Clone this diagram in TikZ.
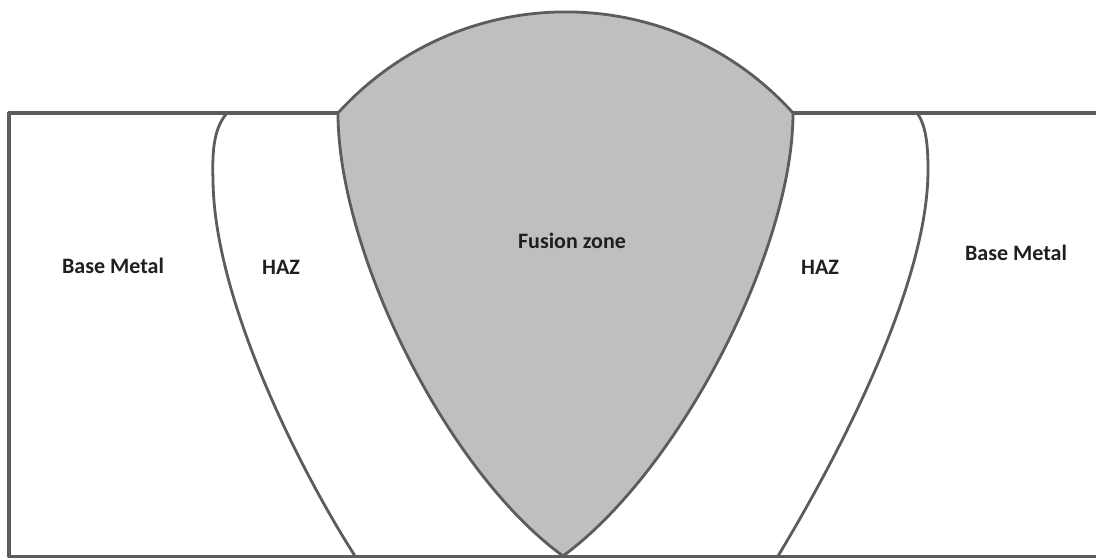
\documentclass[tikz,border=0pt]{standalone}
\usepackage{fontspec}
\setmainfont{Carlito}
\begin{document}
\begin{tikzpicture}[x=1pt,y=-1pt,
  edge/.style={draw=black!64, line width=2.8pt, line join=round},
  label/.style={font=\fontsize{22}{26}\selectfont\bfseries, text=black!88, inner sep=0pt, anchor=base}]
\useasboundingbox (0,0) rectangle (1096,559);
\fill[white] (0,0) rectangle (1096,559);
% fusion zone
\fill[black!25] (338,113) .. controls (460.4,-21.8) and (671.6,-21.8) .. (793,113)
  .. controls (793,250) and (680,470) .. (563,556)
  .. controls (445,470) and (338,250) .. (338,113) -- cycle;
\draw[edge] (338,113) .. controls (460.4,-21.8) and (671.6,-21.8) .. (793,113)
  .. controls (793,250) and (680,470) .. (563,556)
  .. controls (445,470) and (338,250) .. (338,113);
% plate outline
\draw[edge, line width=3.2pt] (338,113) -- (9,113) -- (9,556.5) -- (1096,556.5);
\draw[edge, line width=3.2pt] (793,113) -- (1096,113);
% HAZ boundaries
\draw[edge] (227,113) .. controls (214,128) and (212,150) .. (213,180)
  .. controls (214,300) and (300,470) .. (355,556);
\draw[edge] (917,113) .. controls (926,125) and (928,145) .. (928,170)
  .. controls (928,290) and (830,470) .. (778,556);
% labels
\node[label] (bml) at (113,273) {Base Metal};
\node[label] (hazl) at (281,274) {HAZ};
\node[label] (fz) at (572,248) {Fusion zone};
\node[label] (hazr) at (820,274) {HAZ};
\node[label] (bmr) at (1016,260) {Base Metal};
\end{tikzpicture}
\end{document}
